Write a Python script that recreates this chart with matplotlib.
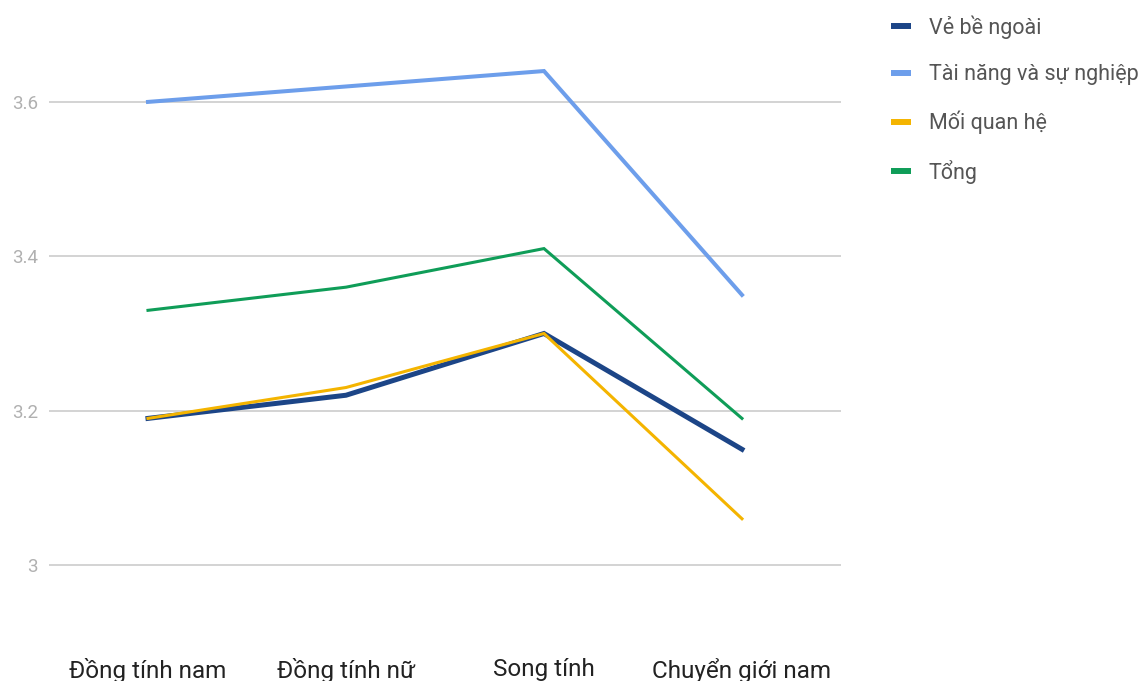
import matplotlib
matplotlib.use("Agg")
import matplotlib.pyplot as plt
from matplotlib.lines import Line2D

plt.rcParams['font.family'] = ['Roboto', 'DejaVu Sans']

# Điểm trung bình theo nhóm
groups = ['Đồng tính nam', 'Đồng tính nữ', 'Song tính', 'Chuyển giới nam']
ve_be_ngoai = [3.19, 3.22, 3.30, 3.15]
tai_nang = [3.60, 3.62, 3.64, 3.35]
moi_quan_he = [3.19, 3.23, 3.30, 3.06]
tong = [3.33, 3.36, 3.41, 3.19]

series = [
    ('Vẻ bề ngoài', ve_be_ngoai, '#1c4587', 3.6),
    ('Tài năng và sự nghiệp', tai_nang, '#6d9eeb', 2.9),
    ('Mối quan hệ', moi_quan_he, '#f4b400', 2.2),
    ('Tổng', tong, '#0f9d58', 2.2),
]

fig = plt.figure(figsize=(11.42, 6.81), dpi=100)
ax = fig.add_axes([0.0429, 0.0569, 0.6935, 0.9408])

x = range(len(groups))
# vẽ theo thứ tự để đường vàng nằm trên đường xanh đậm
for i in [1, 3, 0, 2]:
    name, vals, color, lw = series[i]
    ax.plot(x, vals, color=color, lw=lw, solid_joinstyle='miter', zorder=3)

ax.set_xlim(-0.5, len(groups) - 0.5)
ax.set_ylim(2.9, 3.73)
ax.set_yticks([3.0, 3.2, 3.4, 3.6])
ax.set_yticklabels(['3', '3.2', '3.4', '3.6'])
ax.set_xticks(list(x))
ax.set_xticklabels(groups)

ax.grid(axis='y', color='#cccccc', lw=1.2)
ax.set_axisbelow(True)
for s in ax.spines.values():
    s.set_visible(False)
ax.tick_params(axis='y', length=0, pad=8, labelsize=13.5, labelcolor='#b0b0b0')
ax.tick_params(axis='x', length=0, pad=11, labelsize=17.5, labelcolor='#222222')

handles = [Line2D([0], [0], color=c, lw=4.3, solid_capstyle='butt') for _, _, c, _ in series]
labels = [n for n, _, _, _ in series]
fig.legend(handles, labels, loc='upper left', bbox_to_anchor=(0.768, 0.998),
           frameon=False, fontsize=15.5, handlelength=0.93, handletextpad=0.84,
           labelspacing=1.19, borderaxespad=0.234, labelcolor='#555555')

fig.savefig('out.png', dpi=100)
